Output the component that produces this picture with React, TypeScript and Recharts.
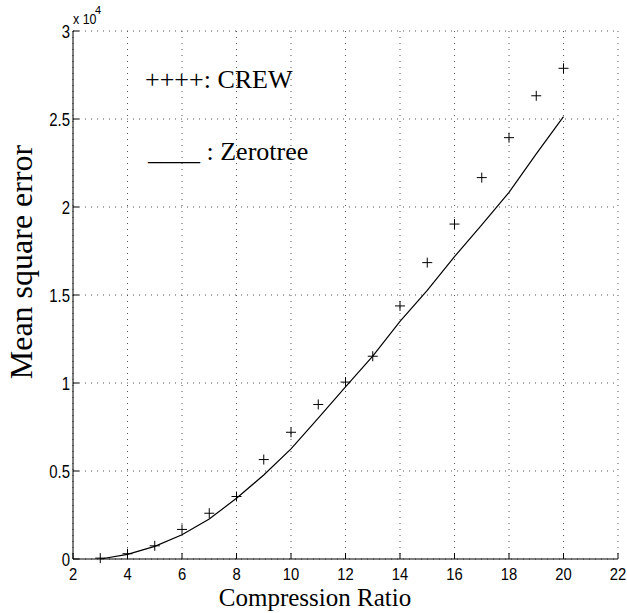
import { ComposedChart, Line, XAxis, YAxis, CartesianGrid } from 'recharts';

const ratios = [3, 4, 5, 6, 7, 8, 9, 10, 11, 12, 13, 14, 15, 16, 17, 18, 19, 20];
const crewMse = [50, 300, 750, 1680, 2600, 3550, 5650, 7200, 8780, 10050, 11520, 14380, 16840, 19030, 21670, 23940, 26320, 27880];
const zerotreeMse = [0, 260, 720, 1380, 2270, 3450, 4770, 6260, 8000, 9780, 11530, 13500, 15260, 17180, 18990, 20830, 23020, 25130];

const xTicks = [2, 4, 6, 8, 10, 12, 14, 16, 18, 20, 22];
const yTicks = [0, 5000, 10000, 15000, 20000, 25000, 30000];

const data = ratios.map((r, i) => ({ ratio: r, crew: crewMse[i], zerotree: zerotreeMse[i] }));

const SANS = '"Liberation Sans", Arial, Helvetica, sans-serif';
const SERIF = '"Liberation Serif", "Times New Roman", Times, serif';
const TICK = 6;

const fmtY = (v: number) => String(v / 10000);

function BottomTick(props: any) {
  const { x, y, payload } = props;
  return (
    <g>
      <line x1={x} y1={y} x2={x} y2={y - TICK} stroke="#000" />
      <text
        transform={`translate(${x},${y + 21}) scale(0.87,1)`}
        textAnchor="middle"
        fontFamily={SANS}
        fontSize={17}
        fill="#000"
      >
        {payload.value}
      </text>
    </g>
  );
}

function LeftTick(props: any) {
  const { x, y, payload } = props;
  return (
    <g>
      <line x1={x} y1={y} x2={x + TICK} y2={y} stroke="#000" />
      <text
        transform={`translate(${x - 3},${y + 6.5}) scale(0.83,1)`}
        textAnchor="end"
        fontFamily={SANS}
        fontSize={18}
        fill="#000"
      >
        {fmtY(payload.value)}
      </text>
    </g>
  );
}

function TopTick(props: any) {
  const { x, y } = props;
  return <line x1={x} y1={y} x2={x} y2={y + TICK} stroke="#000" />;
}

function RightTick(props: any) {
  const { x, y } = props;
  return <line x1={x} y1={y} x2={x - TICK} y2={y} stroke="#000" />;
}

function PlusDot(props: any) {
  const { cx, cy } = props;
  if (cx == null || cy == null) return null;
  const s = 5;
  return (
    <g>
      <line x1={cx - s} y1={cy} x2={cx + s} y2={cy} stroke="#000" strokeWidth={1} />
      <line x1={cx} y1={cy - s} x2={cx} y2={cy + s} stroke="#000" strokeWidth={1} />
    </g>
  );
}

export default function App() {
  return (
    <div style={{ position: 'absolute', left: 0, top: 0, width: 627, height: 613, background: '#fff' }}>
      <ComposedChart width={627} height={613} data={data} margin={{ top: 31, right: 9, bottom: 0, left: 0 }}>
        <CartesianGrid stroke="#555" strokeDasharray="1 5" />
        <XAxis
          dataKey="ratio"
          type="number"
          domain={[2, 22]}
          ticks={xTicks}
          interval={0}
          height={54}
          tickSize={0}
          tickMargin={0}
          axisLine={{ stroke: '#000' }}
          tickLine={false}
          tick={<BottomTick />}
        />
        <XAxis
          xAxisId="top"
          orientation="top"
          dataKey="ratio"
          type="number"
          domain={[2, 22]}
          ticks={xTicks}
          interval={0}
          height={0}
          tickSize={0}
          tickMargin={0}
          axisLine={{ stroke: '#000' }}
          tickLine={false}
          tick={<TopTick />}
        />
        <YAxis
          type="number"
          domain={[0, 30000]}
          ticks={yTicks}
          interval={0}
          width={73}
          tickSize={0}
          tickMargin={0}
          axisLine={{ stroke: '#000' }}
          tickLine={false}
          tick={<LeftTick />}
        />
        <YAxis
          yAxisId="right"
          orientation="right"
          type="number"
          domain={[0, 30000]}
          ticks={yTicks}
          interval={0}
          width={0}
          tickSize={0}
          tickMargin={0}
          axisLine={{ stroke: '#000' }}
          tickLine={false}
          tick={<RightTick />}
        />
        <Line
          dataKey="zerotree"
          type="linear"
          stroke="#000"
          strokeWidth={1.2}
          dot={false}
          isAnimationActive={false}
        />
        <Line
          dataKey="crew"
          type="linear"
          stroke="none"
          dot={<PlusDot />}
          activeDot={false}
          isAnimationActive={false}
        />
      </ComposedChart>
      <svg
        width={627}
        height={613}
        style={{ position: 'absolute', left: 0, top: 0, pointerEvents: 'none' }}
      >
        <text transform="translate(73,24) scale(0.83,1)" fontFamily={SANS} fontSize={15} fill="#000">
          x 10
        </text>
        <text x={95} y={14} fontFamily={SANS} fontSize={11} fill="#000">
          4
        </text>
        <text x={145} y={88} fontFamily={SERIF} fontSize={26} fill="#000">
          ++++: CREW
        </text>
        <text x={148} y={160} fontFamily={SERIF} fontSize={26} fill="#000">
          ____ : Zerotree
        </text>
        <text x={315} y={606} textAnchor="middle" fontFamily={SERIF} fontSize={25} fill="#000">
          Compression Ratio
        </text>
        <text
          transform="translate(32,262) rotate(-90)"
          textAnchor="middle"
          fontFamily={SERIF}
          fontSize={32}
          fill="#000"
        >
          Mean square error
        </text>
      </svg>
    </div>
  );
}
